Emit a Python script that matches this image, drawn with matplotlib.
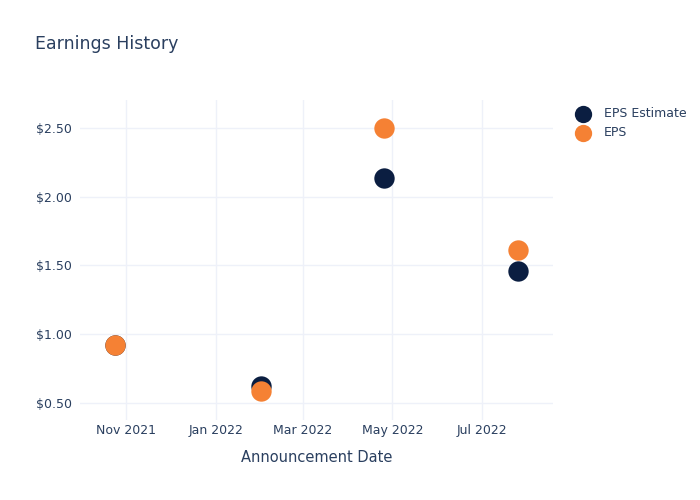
import numpy as np
import pandas as pd
import matplotlib.pyplot as plt
import matplotlib.dates as mdates
from matplotlib.ticker import FuncFormatter

# data
dates = pd.to_datetime(["2021-10-25", "2022-02-01", "2022-04-25", "2022-07-25"])
eps_estimate = [0.92, 0.62, 2.14, 1.46]
eps_actual = [0.92, 0.59, 2.50, 1.61]

txt = "#2a3f5f"
grid = "#eef1f9"

fig = plt.figure(figsize=(7, 5), dpi=100)
ax = fig.add_axes([0.1143, 0.16, 0.6757, 0.64])

ax.scatter(dates, eps_estimate, s=215, color="#0b1e41", zorder=3, label="EPS Estimate", linewidths=0)
ax.scatter(dates, eps_actual, s=215, color="#f58134", zorder=4, label="EPS", linewidths=0)

ax.set_xlim(pd.Timestamp("2021-10-01"), pd.Timestamp("2022-08-18"))
ax.set_ylim(0.376, 2.704)

ax.xaxis.set_major_locator(mdates.MonthLocator(bymonth=[1, 3, 5, 7, 11]))
ax.xaxis.set_major_formatter(mdates.DateFormatter("%b %Y"))
ax.set_yticks([0.5, 1.0, 1.5, 2.0, 2.5])
ax.yaxis.set_major_formatter(FuncFormatter(lambda v, p: f"${v:.2f}"))

ax.grid(True, color=grid, linewidth=1)
ax.set_axisbelow(True)
for s in ax.spines.values():
    s.set_visible(False)
ax.tick_params(length=0, colors=txt, labelsize=9)
ax.tick_params(axis="x", pad=3)
ax.tick_params(axis="y", pad=6)
ax.set_xlabel("Announcement Date", color=txt, fontsize=10.5, labelpad=9)

fig.text(0.05, 0.912, "Earnings History", color=txt, fontsize=12.5, va="center")

leg = ax.legend(loc="upper left", bbox_to_anchor=(1.013, 1.012), frameon=False,
                fontsize=9, handletextpad=0.65, labelspacing=0.45, markerscale=0.85)
for t in leg.get_texts():
    t.set_color(txt)

fig.savefig("out.png", dpi=100)
